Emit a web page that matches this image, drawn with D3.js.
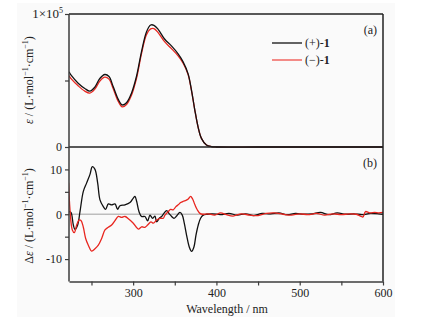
<!DOCTYPE html>
<html>
<head>
<meta charset="utf-8">
<script src="https://cdn.jsdelivr.net/npm/d3@7"></script>
<style>
  body { margin: 0; background: #fff; }
  text { font-family: "Liberation Serif", "DejaVu Serif", serif; fill: #222; }
</style>
</head>
<body>
<svg id="paper"></svg>
<script>
// UV spectra (a)
let uvWave = [223, 226, 234, 242, 248, 254, 260, 266, 271, 276, 282, 287, 292, 298, 304, 310, 316, 321, 325, 330, 338, 346, 354, 360, 366, 370, 374, 378, 382, 388, 394, 400, 450, 500, 550, 600];
let uvPlus = [56600, 53600, 48000, 44000, 42000, 45000, 51500, 54500, 53000, 45500, 36000, 31600, 33300, 40500, 53000, 71500, 86500, 91700, 91500, 88500, 81000, 76000, 70000, 64000, 55000, 43000, 28000, 15000, 6500, 1500, 300, 0, 0, 0, 0, 0];
let uvMinus = [53500, 51000, 46000, 42000, 40500, 43500, 49500, 52500, 51000, 44000, 34500, 30200, 32000, 39000, 51500, 70000, 84500, 88800, 89000, 86000, 79000, 74000, 68500, 63000, 54500, 42500, 28000, 15000, 6500, 1500, 300, 0, 0, 0, 0, 0];

// CD spectra (b)
let cdPlusWave = [223, 225.4, 228.2, 230.2, 233.4, 236.2, 240.2, 244.2, 248.2, 251, 254.2, 257.4, 260.2, 264.2, 267, 270.2, 274.2, 278.2, 281.4, 284.2, 290.2, 296.2, 300.2, 302.2, 304.2, 307, 310.2, 314.2, 317.4, 320.2, 323.4, 326.2, 328.2, 331.4, 334.2, 337, 340.2, 343.4, 346.2, 349, 352.2, 356.2, 359, 361.4, 364.2, 367.4, 370.2, 373, 375.4, 378.2, 381, 384.2, 388.2, 395, 405, 415, 425, 435, 445, 455, 465, 475, 485, 495, 505, 515, 525, 535, 545, 555, 565, 575, 585, 595, 600];
let cdPlus = [0.6, 0.4, -2.4, -3.4, -2.4, 0.6, 5.1, 7, 8.9, 10.6, 10, 7, 3.2, 1.7, 1.1, 2.3, 2.1, 2.3, 1.1, 1.9, 2.1, 2.6, 3.6, 4, 2.9, 0.6, -0.5, -0.5, -1.5, -0.2, -0.9, -0.4, -1.7, -0.9, -0.5, 0.2, 0.8, 0.1, -0.5, -0.9, -0.4, 0.4, -0.2, -2, -4.7, -7.3, -8.3, -7.3, -4.7, -2.4, -0.9, -0.2, 0, 0.1, -0.1, 0.2, -0.2, 0.1, -0.3, 0.2, 0.1, 0.3, -0.1, 0.2, 0, 0.1, 0.4, -0.1, 0.3, 0, 0.1, -0.1, 0.2, 0.1, 0];
let cdMinusWave = [222.5, 224.2, 227, 229.4, 232.2, 235, 237.4, 240.2, 243, 246.2, 250.2, 254.2, 258.2, 262.2, 266.2, 270.2, 274.2, 278.2, 282.2, 286.2, 290.2, 295, 300.2, 306.2, 310.2, 314.2, 317.4, 321.4, 324.2, 328.2, 332.2, 336.2, 338.2, 342.2, 345, 348.2, 351.4, 354.2, 357, 360.2, 363.4, 366.2, 369, 371.4, 374.2, 377, 380.2, 383.4, 390, 398, 405, 412, 420, 430, 440, 450, 460, 470, 480, 490, 500, 510, 520, 530, 540, 550, 560, 568, 573, 576, 579, 584, 590, 595, 600];
let cdMinus = [7, 1, -3.5, -4.1, -2.4, -1.3, -1.4, -2.9, -5.4, -6.9, -8.2, -7.7, -6.9, -5.4, -3.5, -2.9, -2.4, -1.4, -0.5, -0.7, -0.5, -1.1, -2, -3.3, -2.8, -2.9, -2.4, -1.7, -2, -1.3, -0.9, -0.9, -0.2, 0.6, 1.1, 1, 1.7, 2.1, 2.6, 2.9, 3.1, 3.4, 4, 3.4, 2.1, 1, 0.2, 0, 0.1, -0.2, 0.3, -0.1, -0.4, 0.1, -0.2, -0.3, 0.2, 0.3, 0, -0.2, 0.1, -0.1, 0.2, -0.2, 0.1, -0.1, 0.1, 0, -0.4, -0.6, 0.6, 0.3, 0.4, 0.3, 0.4];

let xTicks = [250, 300, 350, 400, 450, 500, 550, 600];
let xLabels = [300, 400, 500, 600];

let W = 426, H = 320;
let mLeft = 69, mRight = 383, mTop = 14, mMid = 147, mBottom = 281.5;
let black = "#111", red = "#e8261f", axisCol = "#3c3c3c";

let svg = d3.select("#paper").attr("width", W).attr("height", H);

svg.append("rect").attr("x", 17).attr("y", 3).attr("width", 378).attr("height", 314)
    .attr("fill", "#fafafa");

let x = d3.scaleLinear().domain([223, 600]).range([mLeft, mRight]);
let yA = d3.scaleLinear().domain([0, 100000]).range([mMid, mTop]);
let yB = d3.scaleLinear().domain([-15, 15]).range([mBottom, mMid]);

svg.append("clipPath").attr("id", "clip")
    .append("rect").attr("x", mLeft).attr("y", mTop).attr("width", mRight - mLeft).attr("height", mBottom - mTop);

// zero line in CD panel
svg.append("line")
    .attr("x1", mLeft).attr("x2", mRight)
    .attr("y1", yB(0)).attr("y2", yB(0))
    .attr("stroke", "#bdbdbd").attr("stroke-width", 1.6);

let lineA = d3.line().x(d => x(d[0])).y(d => yA(d[1])).curve(d3.curveCatmullRom);
let lineB = d3.line().x(d => x(d[0])).y(d => yB(d[1])).curve(d3.curveCatmullRom);

let plot = svg.append("g").attr("clip-path", "url(#clip)");

plot.append("path").datum(uvWave.map((w, i) => [w, uvMinus[i]]))
    .attr("d", lineA).attr("fill", "none").attr("stroke", red).attr("stroke-width", 1.3);
plot.append("path").datum(uvWave.map((w, i) => [w, uvPlus[i]]))
    .attr("d", lineA).attr("fill", "none").attr("stroke", black).attr("stroke-width", 1.3);

plot.append("path").datum(cdPlusWave.map((w, i) => [w, cdPlus[i]]))
    .attr("d", lineB).attr("fill", "none").attr("stroke", black).attr("stroke-width", 1.3);
plot.append("path").datum(cdMinusWave.map((w, i) => [w, cdMinus[i]]))
    .attr("d", lineB).attr("fill", "none").attr("stroke", red).attr("stroke-width", 1.3);

// frame
let frame = svg.append("g").attr("stroke", "#222").attr("stroke-width", 1.5);
frame.append("line").attr("x1", mLeft).attr("x2", mRight).attr("y1", mTop).attr("y2", mTop);
frame.append("line").attr("x1", mRight).attr("x2", mRight).attr("y1", mTop).attr("y2", mBottom);
frame.append("line").attr("x1", mLeft).attr("x2", mRight).attr("y1", mMid).attr("y2", mMid);

// axes
let axA = svg.append("g").attr("transform", "translate(" + mLeft + ",0)")
    .call(d3.axisLeft(yA).tickValues([0, 50000, 100000]).tickSize(4).tickSizeOuter(0).tickFormat(d => d == 0 ? "0" : ""));
let axB = svg.append("g").attr("transform", "translate(" + mLeft + ",0)")
    .call(d3.axisLeft(yB).tickValues([-10, -5, 0, 5, 10]).tickSize(4).tickSizeOuter(0)
        .tickFormat(d => d % 10 == 0 ? String(d) : ""));
let axX = svg.append("g").attr("transform", "translate(0," + mBottom + ")")
    .call(d3.axisBottom(x).tickValues(xTicks).tickSize(4).tickSizeOuter(0)
        .tickFormat(d => xLabels.includes(d) ? String(d) : ""));

[axA, axB, axX].forEach(a => {
    a.selectAll("path").attr("stroke", axisCol).attr("stroke-width", 1.5);
    a.selectAll("line").attr("stroke", axisCol).attr("stroke-width", 1.2);
    a.selectAll("text").attr("font-family", "Liberation Serif").attr("font-size", 12).attr("fill", "#222");
});
axA.select(".domain").attr("d", "M0," + mTop + "V" + mMid);
axB.select(".domain").attr("d", "M0," + mMid + "V" + mBottom);

// 1×10^5 label
let t5 = svg.append("text").attr("x", mLeft - 6).attr("y", yA(100000) + 4)
    .attr("text-anchor", "end").attr("font-size", 13);
t5.append("tspan").text("1×10");
t5.append("tspan").text("5").attr("font-size", 8).attr("dy", -5);

// axis titles
function addTitle(cx, cy, parts) {
    let t = svg.append("text").attr("transform", "translate(" + cx + "," + cy + ") rotate(-90)")
        .attr("text-anchor", "middle").attr("font-size", 12);
    parts.forEach(p => {
        let s = t.append("tspan").text(p.t);
        if (p.i) s.attr("font-style", "italic");
        if (p.sup) s.attr("font-size", 8).attr("dy", -5);
        if (p.down) s.attr("dy", 5);
    });
}
addTitle(33, 80, [{t: "ε", i: true}, {t: " / (L·mol"}, {t: "−1", sup: true}, {t: "·cm", down: true}, {t: "−1", sup: true}, {t: ")", down: true}]);
addTitle(33, 216, [{t: "Δ"}, {t: "ε", i: true}, {t: " / (L·mol"}, {t: "−1", sup: true}, {t: "·cm", down: true}, {t: "−1", sup: true}, {t: ")", down: true}]);

svg.append("text").attr("x", (mLeft + mRight) / 2 + 1).attr("y", 313)
    .attr("text-anchor", "middle").attr("font-size", 12).text("Wavelength / nm");

// panel tags
svg.append("text").attr("x", 377).attr("y", 34).attr("text-anchor", "end").attr("font-size", 12).text("(a)");
svg.append("text").attr("x", 377).attr("y", 167).attr("text-anchor", "end").attr("font-size", 12).text("(b)");

// legend
let legend = [{name: "(+)-", color: black}, {name: "(−)-", color: "#f0504a"}];
legend.forEach((d, i) => {
    let ly = 43 + i * 17;
    svg.append("line").attr("x1", 272).attr("x2", 302).attr("y1", ly).attr("y2", ly)
        .attr("stroke", d.color).attr("stroke-width", 1.3);
    let t = svg.append("text").attr("x", 305).attr("y", ly + 4).attr("font-size", 12);
    t.append("tspan").text(d.name);
    t.append("tspan").text("1").attr("font-weight", "bold");
});
</script>
</body>
</html>
